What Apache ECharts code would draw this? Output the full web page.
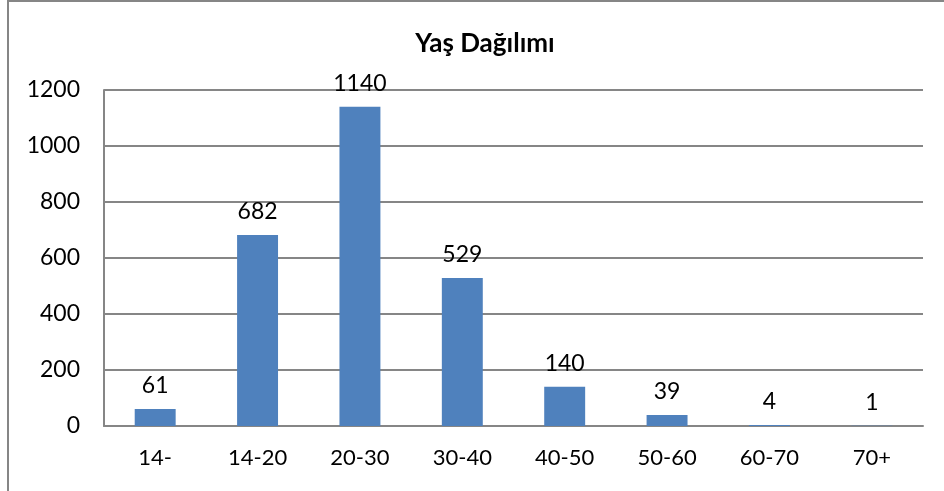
<!DOCTYPE html>
<html><head><meta charset="utf-8">
<script src="https://cdn.jsdelivr.net/npm/echarts@6/dist/echarts.min.js"></script>
<style>html,body{margin:0;padding:0;background:#fff}#c{width:944px;height:491px}</style>
</head><body><div id="c"></div>
<script>
const title = 'Yaş Dağılımı';
const categories = ['14-', '14-20', '20-30', '30-40', '40-50', '50-60', '60-70', '70+'];
const values = [61, 682, 1140, 529, 140, 39, 4, 1];
const yTicks = { min: 0, max: 1200, interval: 200 };
const FONT = 'Lato, "Open Sans", sans-serif';
const chart = echarts.init(document.getElementById('c'), null, { renderer: 'canvas' });
chart.setOption({
  animation: false,
  backgroundColor: '#fff',
  title: {
    text: title, left: 480, top: 26, textAlign: 'center',
    textStyle: { fontFamily: FONT, fontWeight: 'bold', fontSize: 26, color: '#000' }
  },
  graphic: [{
    type: 'rect', shape: { x: 8, y: 1, width: 1200, height: 1200 },
    style: { fill: 'none', stroke: '#868686', lineWidth: 2 }, silent: true
  }],
  grid: { left: 104, right: 21, top: 90, bottom: 65, containLabel: false },
  xAxis: {
    type: 'category', data: categories,
    axisLine: { show: true, lineStyle: { color: '#868686', width: 2 } },
    axisTick: { show: false },
    axisLabel: { fontFamily: FONT, fontSize: 22, color: '#000', margin: 21 }
  },
  yAxis: {
    type: 'value', min: yTicks.min, max: yTicks.max, interval: yTicks.interval,
    axisLine: { show: true, lineStyle: { color: '#868686', width: 2 } },
    axisTick: { show: false },
    splitLine: { lineStyle: { color: '#868686', width: 2 } },
    axisLabel: { fontFamily: FONT, fontSize: 23, color: '#000', margin: 24, formatter: v => String(v) }
  },
  series: [{
    type: 'bar', data: values, barWidth: '40%',
    itemStyle: { color: '#4f81bd' },
    label: { show: true, position: 'top', distance: 12, fontFamily: FONT, fontSize: 23, color: '#000' }
  }]
});
</script></body></html>
